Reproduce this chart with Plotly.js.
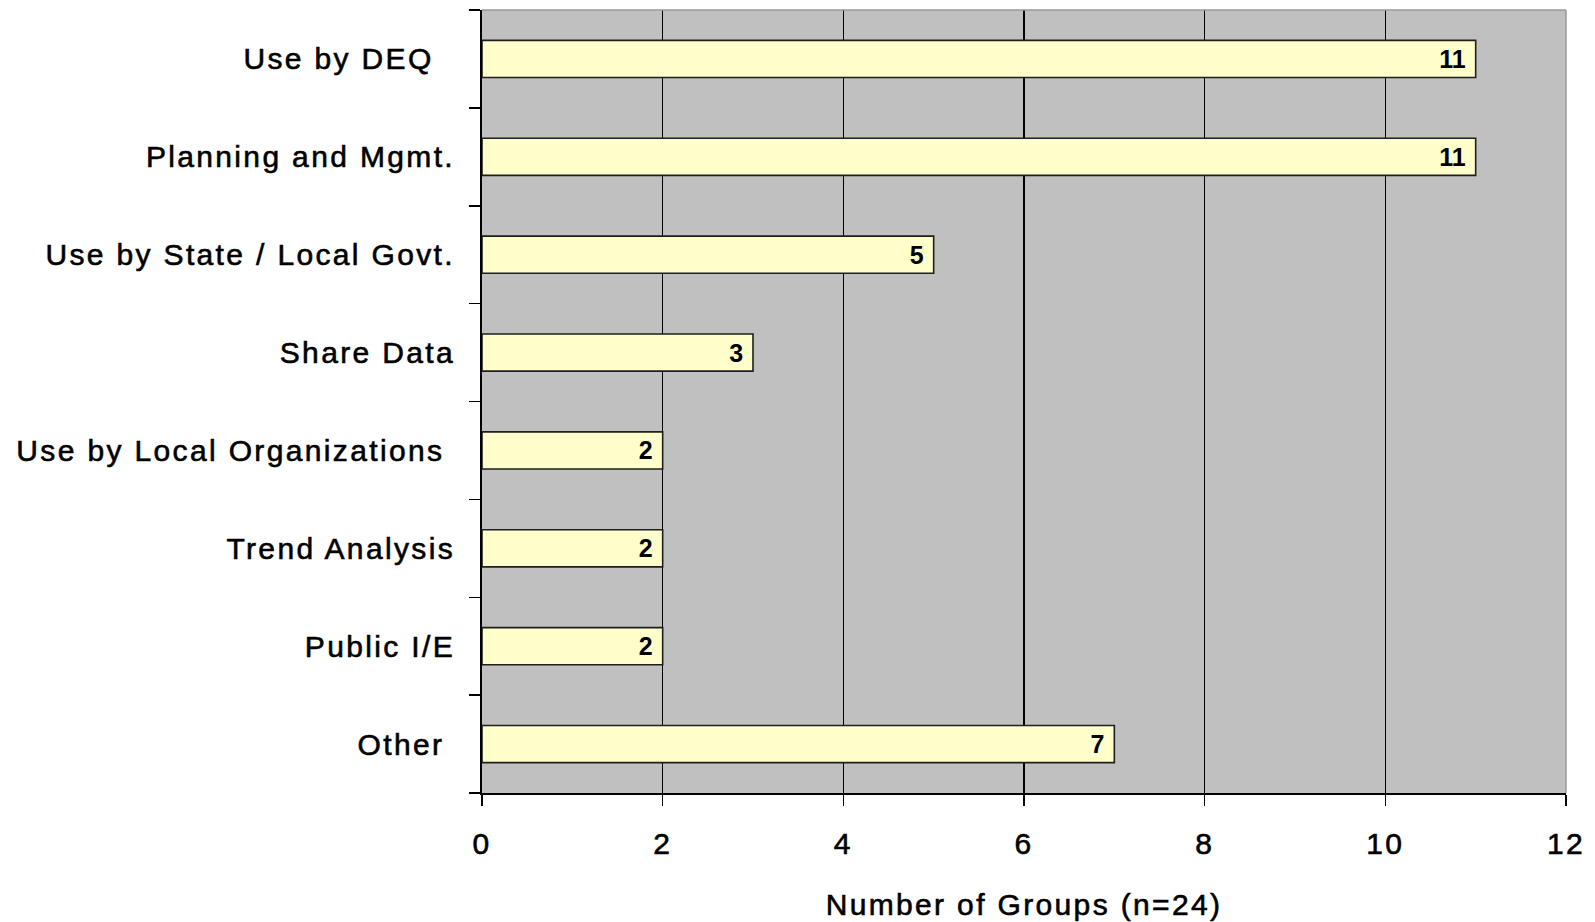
<!DOCTYPE html>
<html>
<head>
<meta charset="utf-8">
<script src="https://cdn.plot.ly/plotly-3.0.1.min.js"></script>
<style>
  html, body { margin: 0; padding: 0; background: #ffffff; }
  #chart { width: 1595px; height: 922px; }
  .ytick text, .xtick text, .g-xtitle text { letter-spacing: 2.35px; stroke: #000000; stroke-width: 0.6px; }
  .textpoint text { letter-spacing: 0.8px; }
</style>
</head>
<body>
<div id="chart"></div>
<script>
// Data
const categories = [
  "Use by DEQ",
  "Planning and Mgmt.",
  "Use by State / Local Govt.",
  "Share Data",
  "Use by Local Organizations",
  "Trend Analysis",
  "Public I/E",
  "Other"
];
const tickLabels = [
  "Use by DEQ\u00a0\u00a0",
  "Planning and Mgmt.",
  "Use by State / Local Govt.",
  "Share Data",
  "Use by Local Organizations\u00a0",
  "Trend Analysis",
  "Public I/E",
  "Other\u00a0"
];
const groupCounts = [11, 11, 5, 3, 2, 2, 2, 7];
const xTickValues = [0, 2, 4, 6, 8, 10, 12];
const xAxisTitle = "Number of Groups (n=24)";

const labelFont = { family: "Liberation Sans, Arial, sans-serif", size: 30, color: "#000000" };

const trace = {
  type: "bar",
  orientation: "h",
  y: categories,
  x: groupCounts,
  width: 0.38,
  marker: { color: "#ffffcc", line: { color: "#1e1e1e", width: 1.6 } },
  text: groupCounts.map(v => String(v)),
  texttemplate: "%{text}\u00a0",
  textposition: "inside",
  insidetextanchor: "end",
  textangle: 0,
  constraintext: "none",
  textfont: { family: "Liberation Sans, Arial, sans-serif", size: 25, color: "#000000", weight: "bold" },
  hoverinfo: "skip"
};

const layout = {
  width: 1595,
  height: 922,
  margin: { l: 482, r: 29, t: 10, b: 129 },
  paper_bgcolor: "#ffffff",
  plot_bgcolor: "#c0c0c0",
  showlegend: false,
  font: labelFont,
  xaxis: {
    range: [0, 12],
    tickvals: xTickValues,
    ticks: "outside",
    ticklen: 11,
    tickwidth: 1.5,
    tickcolor: "#000000",
    showgrid: true,
    gridcolor: "#000000",
    gridwidth: 1.5,
    zeroline: false,
    showline: true,
    linecolor: "#000000",
    linewidth: 2,
    ticklabelstandoff: 12,
    tickfont: labelFont,
    title: { text: xAxisTitle, font: labelFont, standoff: 35 },
    fixedrange: true
  },
  yaxis: {
    type: "category",
    categoryorder: "array",
    categoryarray: categories,
    tickvals: categories,
    ticktext: tickLabels,
    autorange: "reversed",
    ticks: "outside",
    tickson: "boundaries",
    ticklen: 11,
    tickwidth: 1.5,
    tickcolor: "#000000",
    showgrid: false,
    zeroline: false,
    showline: true,
    linecolor: "#000000",
    linewidth: 2,
    ticklabelstandoff: 19,
    tickfont: labelFont,
    fixedrange: true
  },
  shapes: [
    { type: "line", xref: "paper", yref: "paper", x0: 0, x1: 1, y0: 1, y1: 1, line: { color: "#9a9a9a", width: 1.5 } },
    { type: "line", xref: "paper", yref: "paper", x0: 1, x1: 1, y0: 0, y1: 1, line: { color: "#9a9a9a", width: 1.5 } }
  ],
  hovermode: false
};

Plotly.newPlot("chart", [trace], layout, { displayModeBar: false, staticPlot: true });
</script>
</body>
</html>
